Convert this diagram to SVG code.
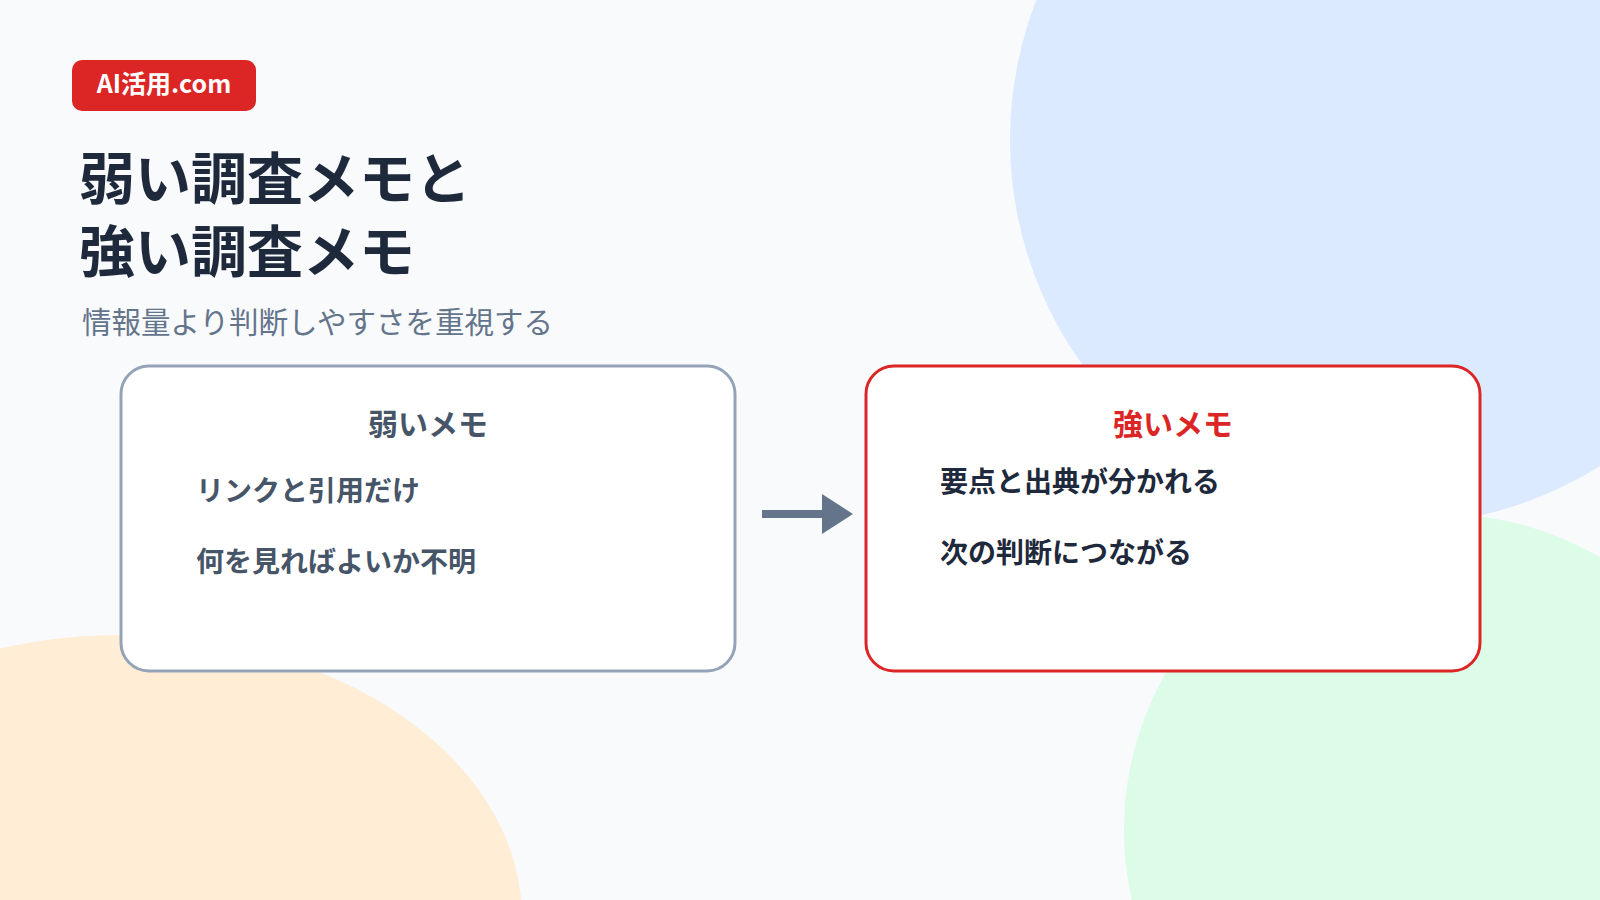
<svg xmlns="http://www.w3.org/2000/svg" width="1600" height="900" viewBox="0 0 1600 900">
<style>
text{font-family:"Noto Sans CJK JP","Noto Sans",sans-serif}
.t{font-size:56px;font-weight:700;fill:#1e293b}
.it{font-size:28px;font-weight:700}
.box{fill:#fff;stroke-width:3}
</style>
<rect width="1600" height="900" fill="#f8fafc"/>
<circle cx="1395" cy="140" r="385" fill="#dbeafe"/>
<circle cx="1440" cy="830" r="316" fill="#dcfce7"/>
<ellipse cx="122" cy="918" rx="400" ry="283" fill="#ffedd5"/>
<g id="logo"><rect x="72" y="60" width="184" height="51" rx="10" fill="#dc2626"/><text x="164" y="93" text-anchor="middle" font-size="25" font-weight="700" fill="#fff">AI活用.com</text></g>
<g id="title"><text class="t" x="79" y="199">弱い調査メモと</text><text class="t" x="79" y="272">強い調査メモ</text>
<text x="82" y="333" font-size="29.5" fill="#64748b">情報量より判断しやすさを重視する</text></g>
<g id="weak"><rect class="box" x="121" y="366" width="614" height="305" rx="28" stroke="#94a3b8"/>
<text x="428" y="435" text-anchor="middle" font-size="30" font-weight="700" fill="#475569">弱いメモ</text>
<text class="it" x="196" y="501" fill="#475569">リンクと引用だけ</text>
<text class="it" x="196" y="572" fill="#475569">何を見ればよいか不明</text></g>
<g id="strong"><rect class="box" x="866" y="366" width="614" height="305" rx="28" stroke="#dc2626"/>
<text x="1173" y="435" text-anchor="middle" font-size="30" font-weight="700" fill="#dc2626">強いメモ</text>
<text class="it" x="940" y="492" fill="#1e293b">要点と出典が分かれる</text>
<text class="it" x="940" y="563" fill="#1e293b">次の判断につながる</text></g>
<g id="connectors"><line x1="762" y1="514" x2="825" y2="514" stroke="#64748b" stroke-width="8"/><path d="M822,494 L853,514 L822,534 Z" fill="#64748b"/></g>
</svg>
